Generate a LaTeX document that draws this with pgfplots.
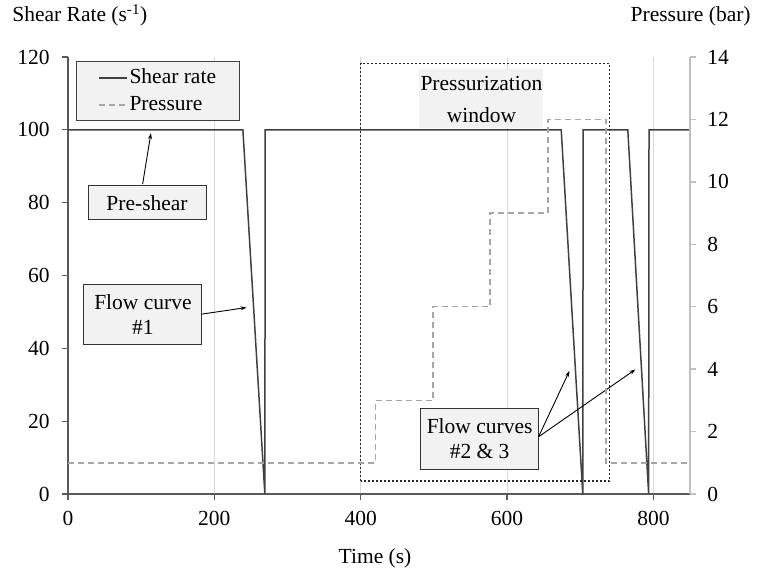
\documentclass[border=0pt]{standalone}
\usepackage{fontspec}
\setmainfont{Liberation Serif}
\usepackage{pgfplots}
\pgfplotsset{compat=1.18}
\usetikzlibrary{arrows.meta}
\definecolor{shearc}{HTML}{404040}
\definecolor{presc}{HTML}{A6A6A6}
\definecolor{axc}{HTML}{595959}
\definecolor{raxc}{HTML}{BFBFBF}
\definecolor{gridc}{HTML}{D9D9D9}
\definecolor{boxf}{HTML}{F2F2F2}
\newcommand{\bigf}{\fontsize{21.5bp}{25bp}\selectfont}
\begin{document}
\bigf
\begin{tikzpicture}
\useasboundingbox (0,0) rectangle (765bp,575bp);
\begin{axis}[
  scale only axis, width=622bp, height=437bp,
  at={(68bp,81bp)}, anchor=south west,
  xmin=0, xmax=850, ymin=0, ymax=120,
  axis x line*=bottom, axis y line*=left,
  axis line style={axc, line width=1.3bp, -},
  x axis line style={-}, y axis line style={-},
  xtick={0,200,...,800}, ytick={0,20,...,120},
  xmajorgrids, grid style={gridc, line width=1bp},
  tick align=outside, major tick length=6bp,
  tick style={axc, line width=1.3bp},
  ticklabel style={font=\bigf},
  xticklabel style={yshift=-4bp},
  yticklabel style={xshift=-5bp},
  /pgf/number format/assume math mode=true,
  legend style={at={(8bp,433bp)}, anchor=north west, fill=boxf, draw=shearc,
    line width=1bp, font=\bigf, inner xsep=22bp, inner ysep=6bp,
    row sep=6bp, nodes={inner sep=1.5bp}},
  legend cell align=left,
  legend image code/.code={\draw[#1] (0bp,0bp) -- (28bp,0bp);},
  clip=false,
]
\addplot[shearc, line width=1.5bp] coordinates {
 (0,100) (239,100) (269,0) (269.5,100) (674,100) (703.5,0) (704,100)
 (765,100) (793.5,0) (794,100) (850,100)};
\addlegendentry{Shear rate}
\addlegendimage{presc, line width=1.5bp, dash pattern=on 6bp off 4bp}
\addlegendentry{Pressure}

\draw[black!85, line width=1.3bp, dash pattern=on 2bp off 2bp]
  (axis cs:400,3.6) rectangle (axis cs:740,118.3);
\node[fill=boxf, minimum width=124bp, minimum height=59bp, align=center, inner sep=0pt, font=\bigf]
  at (axis cs:565,108.6) {};
\node[align=center, inner sep=0pt, font=\bigf]
  at (axis cs:565,108.3) {Pressurization\\[7bp]window};

\node[draw=black!80, line width=1bp, fill=boxf, minimum width=118bp, minimum height=34bp, align=center, inner sep=0pt, font=\bigf]
  at (axis cs:108,80) {Pre-shear};
\draw[-{Stealth[length=6bp,width=4bp]}, line width=0.9bp] (axis cs:102,85.1) -- (axis cs:113.3,99.1);

\node[draw=black!80, line width=1bp, fill=boxf, minimum width=118bp, minimum height=60bp, align=center, inner sep=0pt, font=\bigf]
  at (axis cs:102.4,49.4) {Flow curve\\\#1};
\draw[-{Stealth[length=6bp,width=4bp]}, line width=0.9bp] (axis cs:183,49.4) -- (axis cs:244,51.2);

\node[draw=black!80, line width=1bp, fill=boxf, minimum width=118bp, minimum height=61bp, align=center, inner sep=0pt, font=\bigf]
  at (axis cs:562.5,15.2) {Flow curves\\\#2 \& 3};
\draw[-{Stealth[length=6bp,width=4bp]}, line width=0.9bp] (axis cs:643,15.7) -- (axis cs:685.3,33.8);
\draw[-{Stealth[length=6bp,width=4bp]}, line width=0.9bp] (axis cs:643,15.7) -- (axis cs:775.4,34.2);
\end{axis}

\begin{axis}[
  scale only axis, width=622bp, height=437bp,
  at={(68bp,81bp)}, anchor=south west,
  xmin=0, xmax=850, ymin=0, ymax=14,
  axis y line*=right, axis x line=none,
  axis line style={raxc, line width=1.3bp, -},
  y axis line style={-},
  ytick={0,2,...,14},
  tick align=outside, major tick length=6bp,
  tick style={raxc, line width=1.3bp},
  ticklabel style={font=\bigf},
  yticklabel style={xshift=4bp},
  /pgf/number format/assume math mode=true,
]
\addplot[presc, line width=1.5bp, dash pattern=on 6bp off 4bp] coordinates {
 (0,1) (420,1) (420,3) (499,3) (499,6) (577,6) (577,9) (656,9) (656,12)
 (735,12) (735,1) (850,1)};
\end{axis}

\node[anchor=base west, font=\bigf] at (5bp,553bp) {Shear Rate (s\textsuperscript{-1})};
\node[anchor=base east, font=\bigf] at (758bp,553bp) {Pressure (bar)};
\node[anchor=base, font=\bigf] at (375bp,12bp) {Time (s)};
\end{tikzpicture}
\end{document}
